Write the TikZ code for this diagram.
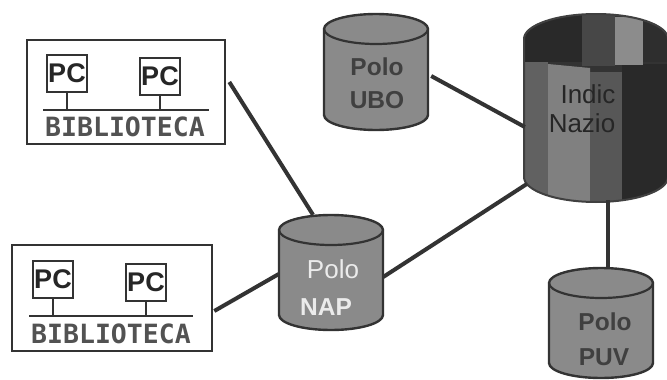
\documentclass[tikz,border=0pt]{standalone}
\usepackage{fontspec}
\setmainfont{Liberation Sans}
\newfontfamily\monof{DejaVu Sans Mono}
\usetikzlibrary{calc}
\definecolor{ink}{gray}{0.2}
\definecolor{polo}{gray}{0.54}
\tikzset{
  x=1pt,y=-1pt,
  link/.style={draw=ink,line width=4pt},
  libbox/.style={draw=ink,line width=2.6pt,fill=white,rectangle,inner sep=0pt},
  pcbox/.style={draw=ink,line width=2.6pt,fill=white,rectangle,inner sep=0pt,minimum width=40pt,minimum height=37pt,text=black!85,font=\fontsize{27}{27}\selectfont\bfseries},
  bus/.style={draw=ink,line width=2.4pt},
  libtext/.style={text=black!68,font=\monof\bfseries\fontsize{26.5}{26.5}\selectfont,inner sep=0pt},
  shell/.style={rectangle,inner sep=0pt},
  polotext/.style={font=\fontsize{24.5}{25}\selectfont\bfseries,inner sep=0pt,anchor=base},
}
% name, cx, rx, top y, bottom y, ry
\newcommand{\polodb}[6]{%
  \path[fill=polo,draw=ink,line width=2.4pt]
    (#2-#3,#4+#6) -- (#2-#3,#5-#6)
    arc[start angle=180,end angle=360,x radius=#3pt,y radius=#6pt]
    -- (#2+#3,#4+#6)
    arc[start angle=0,end angle=180,x radius=#3pt,y radius=#6pt] -- cycle;
  \draw[ink,line width=2.2pt] (#2-#3,#4+#6) arc[start angle=180,end angle=360,x radius=#3pt,y radius=#6pt];
  \node[shell,minimum width=2*#3pt,minimum height=#5pt-#4pt] (#1) at (#2,{(#4+#5)/2}) {};
}
\begin{document}
\begin{tikzpicture}
\useasboundingbox (0,0) rectangle (667,380);
\fill[white] (0,0) rectangle (667,380);

% big cylinder
\begin{scope}
\clip (524,39) arc[start angle=180,end angle=0,x radius=72pt,y radius=25pt]
  -- (668,177) arc[start angle=0,end angle=-180,x radius=72pt,y radius=25pt] -- cycle;
\fill[black!80] (520,10) rectangle (670,205);
\fill[black!62] (524,60) rectangle (548,205);
\fill[black!50] (548,64) -- (590,68) -- (590,205) -- (548,205) -- cycle;
\fill[black!66] (590,72) rectangle (622,205);
\fill[black!84] (622,64) rectangle (670,205);
\fill[black!84] (520,10) rectangle (582,62);
\fill[black!72] (582,10) rectangle (615,66);
\fill[black!45] (615,17) rectangle (643,65);
\fill[black!82] (643,17) rectangle (670,62);
\end{scope}
\draw[black!75,line width=2pt] (524,39) arc[start angle=180,end angle=0,x radius=72pt,y radius=25pt]
  -- (668,177) arc[start angle=0,end angle=-180,x radius=72pt,y radius=25pt] -- cycle;
\node[shell,minimum width=144pt,minimum height=188pt] (big) at (596,108) {};
\node[polotext,text=black!85,font=\fontsize{26}{26}\selectfont] (bigA) at (588,103) {Indic};
\node[polotext,text=black!85,font=\fontsize{26}{26}\selectfont] (bigB) at (582,132) {Nazio};

\polodb{ubo}{376}{52}{14}{130}{15}
\polodb{nap}{331}{52}{215}{330}{15}
\polodb{puv}{601}{52}{268}{378}{15}

\node[polotext,text=black!75] (uboA) at (377,75) {Polo};
\node[polotext,text=black!75] (uboB) at (377,108) {UBO};
\node[polotext,text=black!8,font=\fontsize{26}{26}\selectfont] (napA) at (333,278) {Polo};
\node[polotext,text=black!8] (napB) at (326,315) {NAP};
\node[polotext,text=black!75] (puvA) at (605,330) {Polo};
\node[polotext,text=black!75] (puvB) at (604,365) {PUV};

% library 1
\node[libbox,minimum width=198pt,minimum height=104pt] (liba) at (126,92) {};
\node[pcbox] (pca) at (67,73.5) {PC};
\node[pcbox] (pcb) at (160,76.5) {PC};
\coordinate (busaL) at (43,110);
\coordinate (busaR) at (209,110);
\draw[bus] (busaL) -- (busaR);
\draw[bus] (pca.south) -- (pca.south |- busaL);
\draw[bus] (pcb.south) -- (pcb.south |- busaL);
\node[libtext] (txta) at (125,127) {BIBLIOTECA};

% library 2
\node[libbox,minimum width=200pt,minimum height=106pt] (libb) at (112,298) {};
\node[pcbox] (pcc) at (53,279.5) {PC};
\node[pcbox] (pcd) at (146,282.5) {PC};
\coordinate (busbL) at (29,316);
\coordinate (busbR) at (193,316);
\draw[bus] (busbL) -- (busbR);
\draw[bus] (pcc.south) -- (pcc.south |- busbL);
\draw[bus] (pcd.south) -- (pcd.south |- busbL);
\node[libtext] (txtb) at (111,334) {BIBLIOTECA};

% connectors
\draw[link] ($(liba.east)+(3,-10)$) -- ($(nap.north)+(-18,0)$);
\draw[link] ($(libb.east)+(1,13)$) -- ($(nap.west)+(0,1.5)$);
\draw[link] ($(nap.east)+(0,4.5)$) -- ($(big.west)+(3,76)$);
\draw[link] ($(ubo.east)+(3,4)$) -- ($(big.west)+(1,19)$);
\draw[link] ($(big.south)+(12,-2)$) -- ($(puv.north)+(7,0)$);
\end{tikzpicture}
\end{document}
